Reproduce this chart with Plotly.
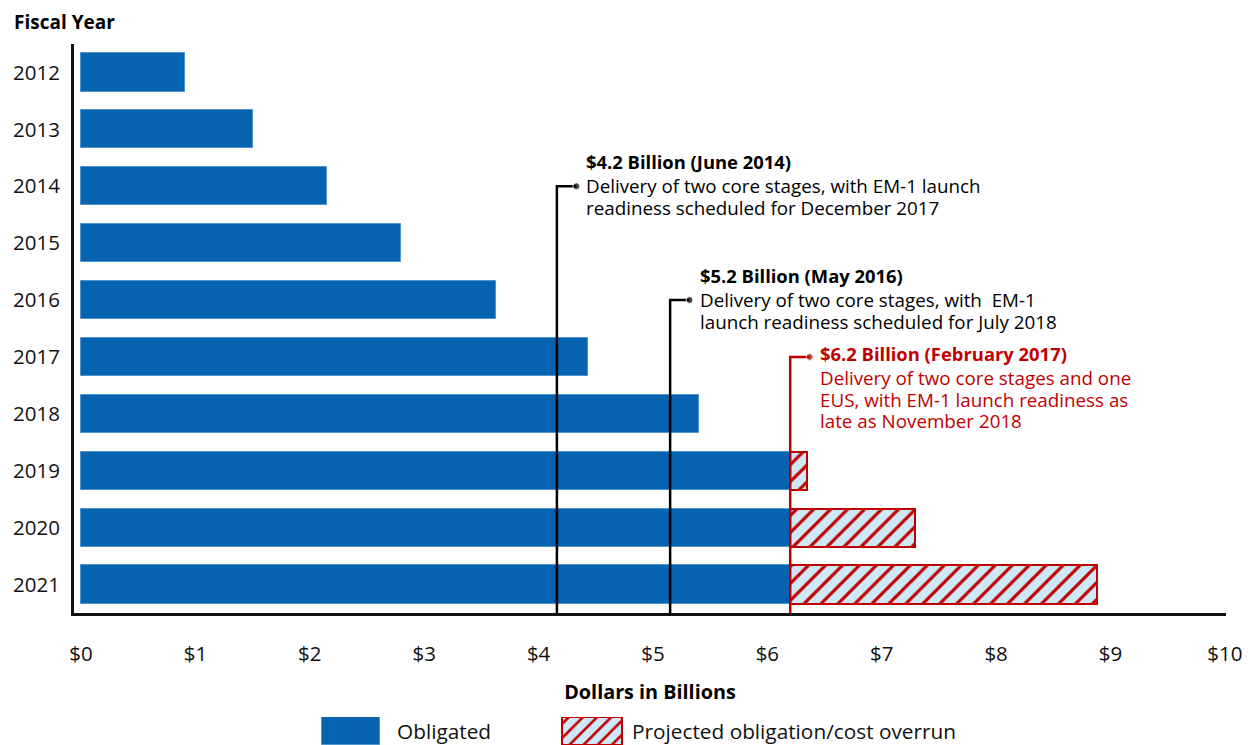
import plotly.graph_objects as go

years = [2012, 2013, 2014, 2015, 2016, 2017, 2018, 2019, 2020, 2021]
obligated = [0.91, 1.50, 2.15, 2.80, 3.63, 4.43, 5.40, 6.20, 6.20, 6.20]
projected_total = [None, None, None, None, None, None, None, 6.35, 7.29, 8.88]
x_ticks = list(range(0, 11))
x_tick_labels = ["$" + str(v) for v in x_ticks]

# milestone markers
milestone_x = [4.16, 5.15, 6.20]
milestone_row = [2014, 2016, 2017]
milestone_title = ["$4.2 Billion (June 2014)", "$5.2 Billion (May 2016)", "$6.2 Billion (February 2017)"]
milestone_body = [
    ["Delivery of two core stages, with EM-1 launch", "readiness scheduled for December 2017"],
    ["Delivery of two core stages, with  EM-1", "launch readiness scheduled for July 2018"],
    ["Delivery of two core stages and one", "EUS, with EM-1 launch readiness as", "late as November 2018"],
]
milestone_color = ["#000000", "#000000", "#C00000"]
milestone_pointer_line = [1, 1, 0]  # which text line the pointer meets

legend_labels = ["Obligated", "Projected obligation/cost overrun"]

BLUE = "#0563B0"
RED = "#C00000"
LIGHT = "#CDE9F7"
FONT = "Open Sans"
W, H = 1248, 745
ML, MR, MT = 74, 22, 44
PLOT_BOTTOM = 613
paper_h = H - MT
main_bottom = (H - PLOT_BOTTOM) / paper_h

hatch = dict(shape="/", fgcolor=RED, bgcolor=LIGHT, size=12, solidity=0.26, fgopacity=1)

fig = go.Figure()
fig.add_trace(go.Bar(
    y=years, x=obligated, orientation="h", width=0.67, name=legend_labels[0],
    marker=dict(color=BLUE, opacity=1, line=dict(color="#4f94cf", width=1)), showlegend=False,
))
ov_years = [y for y, t in zip(years, projected_total) if t is not None]
ov_base = [o for o, t in zip(obligated, projected_total) if t is not None]
ov_len = [t - o for o, t in zip(obligated, projected_total) if t is not None]
fig.add_trace(go.Bar(
    y=ov_years, x=ov_len, base=ov_base, orientation="h", width=0.67,
    name=legend_labels[1], showlegend=False,
    marker=dict(color=LIGHT, opacity=1, line=dict(color=RED, width=2), pattern=hatch),
))

LINE_H = 21.5
for mx, row, title, body, col, pl in zip(milestone_x, milestone_row, milestone_title,
                                          milestone_body, milestone_color, milestone_pointer_line):
    fig.add_trace(go.Scatter(
        x=[mx, mx, mx + 0.17], y=[2021.5, row, row], mode="lines+markers",
        line=dict(color=col, width=2.5), marker=dict(size=[0, 0, 7], color=col),
        showlegend=False, hoverinfo="skip", cliponaxis=False,
    ))
    lines = ["<b>" + title + "</b>"] + body
    for k, ln in enumerate(lines):
        off = (k - pl) * LINE_H - (3.5 if k == 0 else 0)
        fig.add_annotation(
            x=mx + 0.24, y=row, xref="x", yref="y", text=ln, showarrow=False,
            xanchor="left", yanchor="middle", align="left", yshift=-off,
            font=dict(family=FONT, size=18.4 if k == 0 else 18.8, color=col),
        )

# legend drawn as swatches on an auxiliary axis
leg_base = [322, 562]
leg_w = [58, 60]
leg_text_x = [395, 630]
fig.add_trace(go.Bar(x=[leg_w[0]], base=[leg_base[0]], y=[0], orientation="h", width=1,
                     marker=dict(color=BLUE, line=dict(color="#4f94cf", width=1)),
                     xaxis="x2", yaxis="y2", showlegend=False, hoverinfo="skip"))
fig.add_trace(go.Bar(x=[leg_w[1]], base=[leg_base[1]], y=[0], orientation="h", width=1,
                     marker=dict(color=LIGHT, line=dict(color=RED, width=2),
                                 pattern=dict(hatch, size=10)),
                     xaxis="x2", yaxis="y2", showlegend=False, hoverinfo="skip"))
for lab, tx in zip(legend_labels, leg_text_x):
    fig.add_annotation(x=tx, y=0, xref="x2", yref="y2", text=lab, showarrow=False,
                       xanchor="left", yanchor="middle", yshift=0,
                       font=dict(family=FONT, size=20.8, color="#111"))

fig.add_annotation(x=0, y=1, xref="paper", yref="paper", xshift=-62, yshift=22,
                   text="<b>Fiscal Year</b>", showarrow=False, xanchor="left", yanchor="middle",
                   font=dict(family=FONT, size=19, color="#000"))

fig.update_layout(
    width=W, height=H,
    margin=dict(l=ML, r=MR, t=MT, b=0, autoexpand=False),
    plot_bgcolor="white", paper_bgcolor="white",
    barmode="overlay", bargap=0,
    font=dict(family=FONT, size=20, color="#111"),
    showlegend=False,
    xaxis=dict(range=[-0.062, 10.01], tickvals=x_ticks, ticktext=x_tick_labels, automargin=False,
               showgrid=False, zeroline=False, showline=True, linecolor="#111", linewidth=3,
               ticks="", ticklabelstandoff=20, tickfont=dict(size=20.5),
               title=dict(text="<b>Dollars in Billions</b>", font=dict(family=FONT, size=19.8, color="#000"), standoff=20)),
    yaxis=dict(range=[2021.5, 2011.5], tickvals=years, ticktext=[str(y) for y in years],
               domain=[main_bottom, 1], automargin=False,
               showgrid=False, zeroline=False, showline=True, linecolor="#111", linewidth=3,
               ticks="", ticklabelstandoff=7, tickfont=dict(size=20.5)),
    xaxis2=dict(domain=[0, 1], range=[ML, W - MR], visible=False, anchor="y2", fixedrange=True),
    yaxis2=dict(domain=[0, 28 / paper_h], range=[-0.5, 0.5], visible=False, anchor="x2", fixedrange=True),
)

fig.write_html(
    "out.html",
    config={"displayModeBar": False},
    post_script=("document.documentElement.style.overflow='hidden';"
                 "document.body.style.overflow='hidden';document.body.style.margin='0';"),
)
